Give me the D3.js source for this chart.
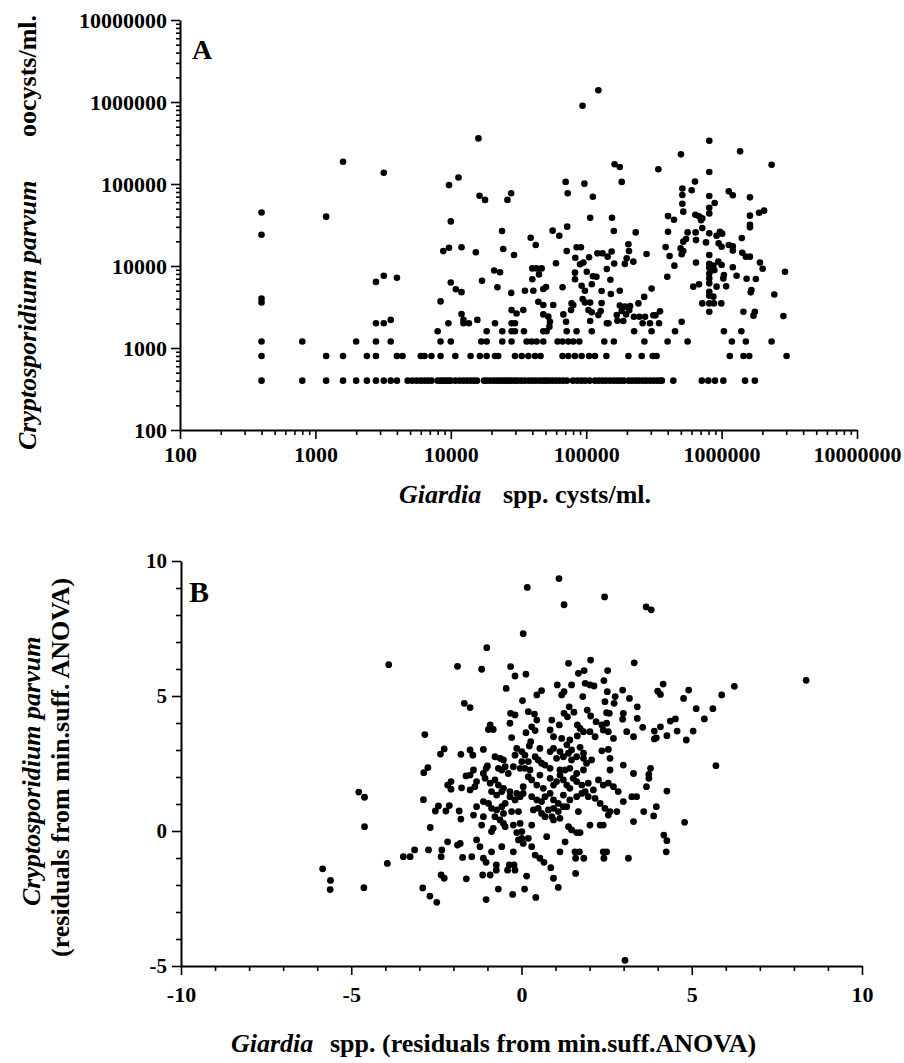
<!DOCTYPE html>
<html>
<head>
<meta charset="utf-8">
<script src="https://cdn.jsdelivr.net/npm/d3@7"></script>
<style>
  html, body { margin: 0; padding: 0; background: #fff; }
  svg { display: block; font-family: "Liberation Serif", "Times New Roman", serif; font-weight: bold; }
</style>
</head>
<body>
<svg id="chart" width="904" height="1063"></svg>
<script>
// ---------------- Panel A: raw counts (log–log) ----------------
// Giardia cysts/ml for samples whose Cryptosporidium count sits at the 400/ml floor
const floorRowA = [400, 800, 1200, 1600, 2000, 2400, 2800, 3200, 3600, 4000, 4800, 5200, 5600, 6000,
  6400, 6800, 7200, 8000, 8400, 8800, 9200, 9600, 10000, 10800, 11600, 12400, 13200, 14000, 14800,
  15600, 17600, 18400, 19600, 20800, 22000, 23200, 24400, 25600, 26800, 28000, 29600, 31200, 33200,
  35200, 37600, 40000, 42400, 45200, 48000, 50400, 53200, 56400, 60000, 63600, 67600, 72000, 80000,
  86000, 92000, 98000, 106000, 116000, 124000, 132000, 140000, 150000, 160000, 170000, 180000, 190000,
  206000, 218000, 232000, 246000, 262000, 278000, 296000, 314000, 334000, 352000, 362000, 440000,
  714000, 798000, 894000, 1030000, 1490000, 1760000];

// [Giardia, Cryptosporidium] on the 800 / 1200 / 1600 / 2000 count rows
const lowRowsA = [
  [400,800],[1200,800],[1600,800],[2400,800],[2800,800],[4000,800],[4400,800],[6000,800],[6400,800],
  [7200,800],[8400,800],[10800,800],[14000,800],[16400,800],[18400,800],[21200,800],[22400,800],
  [29800,800],[33400,800],[37400,800],[41900,800],[46000,800],[66900,800],[73800,800],[82600,800],
  [92500,800],[105000,800],[116000,800],[141000,800],[205000,800],[257000,800],[310000,800],[331000,800],
  [1150000,800],[1450000,800],[1600000,800],[3020000,800],
  [400,1200],[800,1200],[2000,1200],[2800,1200],[3600,1200],[8400,1200],[10000,1200],[16800,1200],
  [18400,1200],[24000,1200],[28100,1200],[36300,1200],[39500,1200],[43000,1200],[48200,1200],
  [61500,1200],[66900,1200],[73800,1200],[80300,1200],[89000,1200],[136000,1200],[160000,1200],
  [269000,1200],[399000,1200],[561000,1200],[1190000,1200],[1510000,1200],[2340000,1200],
  [8000,1600],[18400,1600],[24000,1600],[28100,1600],[29800,1600],[34700,1600],[48200,1600],
  [51000,1600],[71800,1600],[84900,1600],[110000,1600],[226000,1600],[304000,1600],[453000,1600],
  [1040000,1600],[1400000,1600],
  [2800,2000],[3200,2000],[9600,2000],[12400,2000],[13600,2000],[21200,2000],[28100,2000],[29800,2000],
  [142000,2000],[146000,2000],[261000,2000],[296000,2000],[345000,2000]
];

// [Giardia, Cryptosporidium] for the remaining samples
const scatterA = [
  [400,45000],[400,24000],[400,4000],[400,3600],[1200,40000],[1600,187000],[2800,6400],[3200,137000],
  [3200,7600],[3600,2200],[4000,7200],
  [16000,360000],[9700,97000],[11400,120000],[16300,72000],[17900,64000],[26200,64000],[27900,77000],
  [10000,35000],[23900,26700],[8800,15200],[9700,16700],[12000,16900],[15300,14700],[24400,16100],
  [29300,13600],[10000,6300],[10900,5200],[12000,4800],[17000,6600],[20900,8800],[23100,8400],
  [22100,5500],[27900,4700],[8400,3700],[12000,2600],[12400,2200],[15700,2200],
  [123000,1390000],[94000,900000],[811000,337000],[501000,230000],[1370000,250000],[2340000,172000],
  [162000,174000],[177000,161000],[341000,151000],[811000,140000],[70500,106000],[73000,77000],
  [97000,101000],[183000,106000],[112000,70000],
  [513000,88000],[513000,73500],[601000,84000],[636000,107000],[513000,57500],[521000,46000],
  [811000,71300],[811000,51400],[811000,43800],[889000,58600],[1130000,81300],[1210000,72800],
  [1620000,68700],[1620000,41100],[1890000,44600],[2060000,47300],[1620000,31700],[1620000,29600],
  [1410000,21900],[2940000,8500],
  [402000,40600],[445000,36700],[640000,42200],[681000,40300],[720000,38100],[705000,36100],
  [720000,29000],[561000,25700],[643000,25700],[402000,26200],[811000,25000],[918000,23400],
  [973000,26200],[1010000,24800],
  [546000,21300],[521000,19800],[498000,16400],[521000,15200],[507000,13900],[647000,20700],
  [767000,19400],[951000,18900],[1000000,17200],[1130000,18000],[1210000,17400],[1210000,15400],
  [1420000,14500],[1510000,13000],[1620000,13000],
  [386000,17000],[413000,13200],[448000,10100],[397000,7400],[811000,13600],[647000,11000],
  [811000,10600],[811000,9550],[869000,10100],[883000,8900],[811000,8100],[811000,7060],[811000,6140],
  [811000,4860],[811000,4350],[869000,4230],
  [946000,11300],[1000000,10300],[1040000,7760],[1030000,7060],[918000,5600],[1080000,5650],
  [1210000,9640],[1290000,7620],[1530000,7000],[1790000,6930],[1920000,11000],[2010000,9270],
  [1660000,5100],[1640000,4770],[618000,5600],[681000,5970],
  [720000,3500],[811000,3500],[879000,3500],[995000,3500],[811000,2770],[1450000,2770],[1760000,2770],
  [1720000,2480],[2860000,2450],[2450000,4500],
  [38900,22100],[42400,18000],[56500,27000],[63300,23400],[72400,30200],[107000,38800],[155000,38800],
  [160000,26700],[232000,25700],
  [205000,18400],[207000,15200],[199000,12400],[193000,10600],[223000,11300],[279000,14000],
  [304000,5300],[268000,4200],
  [243000,3500],[211000,3250],[193000,3200],[177000,3300],[351000,2800],[313000,2500],[325000,2500],
  [71800,15200],[84900,16900],[91400,16900],[83100,12600],[90000,10500],[95300,11000],[105000,12800],
  [121000,14300],[132000,14300],[144000,13000],[154000,15000],[161000,10700],[142000,9200],[151000,6800],
  [59800,10800],[82600,8300],[82600,6900],[101000,8500],[112000,7500],[119000,7400],[92500,5750],
  [97900,5000],[110000,6000],[130000,4950],[152000,4550],[177000,5000],[66900,5500],
  [40000,9350],[43000,9350],[46900,9350],[40000,6900],[44800,7900],[35300,5000],[40700,5000],
  [48200,5250],[50500,5540],
  [28100,2900],[30600,2640],[34300,2900],
  [44300,3670],[48200,3340],[48200,2570],[52500,2410],[54000,2090],[57100,3340],[53500,1820],
  [67800,2570],[71000,2090],[77300,2900],[80300,3340],[78000,3500],
  [94200,3950],[97900,3600],[107000,3580],[104000,2900],[110000,2720],[107000,2130],
  [123000,2520],[128000,2830],[130000,3530],
  [168000,2520],[183000,2830],[170000,2150],[188000,2130],[197000,2570],[208000,2900],
  [225000,2400],[247000,2400],[272000,2400],[507000,2090]
];

const aTickValues = [1e2, 1e3, 1e4, 1e5, 1e6, 1e7];
const aTickLabels = ["100", "1000", "10000", "100000", "1000000", "10000000"];

// ---------------- Panel B: residuals from min.suff. ANOVA ----------------
// [Giardia residual, Cryptosporidium residual] — outlying samples
const residualsBOuter = [
  [1.1,9.35],[0.17,9.02],[0.05,7.31],[-1.02,6.79],[-3.90,6.16],[-1.88,6.10],
  [-1.68,4.73],[-2.84,3.57],[-2.27,3.04],[-2.38,2.85],[-1.78,2.84],[-2.75,2.35],[-2.87,2.16],
  [-1.63,2.04],[-1.76,1.60],[-2.17,1.70],[-2.07,1.55],[-2.07,1.83],[-2.88,1.16],[-2.53,0.74],
  [-2.44,0.93],[-2.22,0.74],[-2.12,0.94],[-1.83,0.74],[-1.78,0.44],[-2.68,0.13],[-2.17,-0.40],
  [-1.88,-0.52],[-1.80,-0.46],[-1.73,-0.98],[-2.36,-0.95],[-2.34,-0.70],[-2.73,-0.70],[-3.14,-0.70],
  [-3.27,-0.95],[-3.47,-0.95],[-3.94,-1.20],[-4.61,0.16],[-4.61,1.25],[-4.78,1.44],[-5.84,-1.40],
  [-5.61,-1.83],[-5.62,-2.17],[-4.63,-2.10],[-2.90,-2.11],[-2.69,-2.41],[-2.49,-2.64],[-2.36,-1.63],
  [-2.27,-1.75],[-1.62,-1.77],
  [-1.04,-1.16],[-0.74,-1.26],[-0.74,-1.45],[-1.14,-1.63],[-0.92,-1.63],[-0.36,-1.26],[-0.22,-1.26],
  [-0.41,-1.45],[-0.19,-1.45],[-1.04,-2.54],[-0.68,-2.15],[-0.26,-2.35],[0.09,-2.15],[0.15,-1.67],
  [0.42,-2.46],[1.08,-2.09],[1.59,-1.57],[0.94,-1.75],[0.86,-1.36],[0.66,-1.16],[3.04,-4.79],
  [1.25,8.38],[2.44,8.67],[3.66,8.30],[3.81,8.19],
  [4.00,5.18],[4.08,5.06],[4.16,5.44],[4.76,4.91],[4.91,5.22],[5.88,5.04],[6.25,5.36],[8.36,5.58],
  [5.13,4.53],[5.62,4.53],[5.37,4.15],[4.37,4.07],[4.52,4.15],[4.08,3.86],[4.57,3.70],[4.27,3.53],
  [5.04,3.70],[4.84,3.37],[3.90,3.70],[3.90,3.41],[3.96,3.45],[3.56,3.84],[3.79,2.32],[3.74,2.10],
  [3.74,1.95],[3.67,1.64],[4.27,1.48],[5.71,2.42],[3.59,0.72],[3.88,0.56],[3.96,0.90],
  [4.18,-0.15],[4.27,-0.36],[4.25,-0.77],[4.79,0.32]
];

// [Giardia residual, Cryptosporidium residual] — dense core of the cloud
const residualsBCore = [
  [-1.17,5.99],[-0.32,6.09],[-0.19,5.74],[0.13,5.81],[1.38,6.21],[2.03,6.33],[3.31,6.23],[1.67,5.84],
  [1.84,5.94],[2.53,5.94],[-0.45,5.28],
  [1.05,5.41],[1.47,5.41],[1.87,5.47],[2.01,5.41],[2.13,5.37],[2.42,5.57],[0.59,5.20],[0.45,5.04],
  [1.25,5.16],[1.18,5.04],[1.80,4.98],[2.52,5.16],[2.75,4.98],[2.97,5.22],[3.17,4.91],[0.03,4.83],
  [2.45,4.79],[2.72,4.73],
  [-1.51,4.57],[-0.32,4.36],[-0.19,4.30],[0.20,4.42],[0.38,4.33],[0.45,4.11],[1.25,4.36],[1.35,4.23],
  [1.54,4.40],[1.93,4.48],[2.03,4.26],[1.40,4.60],[2.50,4.38],[2.58,4.36],[2.99,4.36],[3.40,4.60],
  [2.97,4.14],[3.40,4.17],[0.89,4.11],[1.11,3.93],[-0.34,3.99],[0.84,3.74],[1.64,3.93],[1.72,3.80],
  [2.19,4.05],[2.36,3.93],[2.40,3.74],[2.50,3.99],
  [-0.92,3.93],[-0.83,3.76],[-0.97,3.76],[0.13,3.64],[0.30,3.86],[0.40,3.72],[-0.29,3.46],[0.27,3.31],
  [0.23,3.15],[0.94,3.49],[1.18,3.43],[1.33,3.19],[1.42,3.37],[1.64,3.52],[1.82,3.68],[2.01,3.68],
  [2.16,3.49],[2.55,3.68],[2.70,3.43],[3.09,3.68],[3.29,3.49],[-1.12,3.02],[-1.51,3.00],[-1.43,2.81],
  [1.47,3.00],[0.94,3.06],[0.84,2.94],[0.54,3.06],[1.13,2.94],[-0.14,3.06],[0.01,2.94],[0.10,2.81],
  [2.55,3.02],[2.36,2.97],[1.82,2.88],[1.72,3.10],
  [-0.78,2.75],[-0.63,2.69],[-0.53,2.63],[-0.19,2.81],[-0.24,2.38],[0.01,2.57],[0.20,2.57],[0.40,2.75],
  [0.49,2.63],[0.59,2.51],[0.69,2.44],[0.84,2.32],[1.03,2.69],[1.23,2.75],[1.38,2.88],[1.47,2.63],
  [1.62,2.75],[1.82,2.69],[1.91,2.51],[2.06,2.63],[2.60,2.69],[2.60,2.26],[2.99,2.44],[3.29,2.13],
  [-1.00,2.41],[-1.12,2.13],[-1.04,2.32],[-1.41,2.26],[-1.51,2.07],[-0.68,2.32],[-0.58,2.26],
  [-0.48,2.38],[-0.39,2.13],[-0.04,2.32],[0.10,2.32],[0.25,2.26],[1.13,2.26],[1.28,2.26],[1.42,2.32],
  [1.62,2.13],[1.82,2.26],
  [-1.32,1.83],[-1.37,1.64],[-1.07,1.95],[-0.92,1.77],[-0.78,1.89],[-0.68,1.70],[-0.53,1.58],
  [-0.34,1.46],[-0.14,1.39],[0.05,1.64],[0.20,2.01],[0.30,1.89],[0.45,1.70],[0.54,2.07],[0.64,1.58],
  [0.84,1.95],[0.94,1.70],[1.03,1.83],[1.13,2.07],[1.23,1.89],[1.33,1.70],[1.42,1.58],[1.52,1.95],
  [1.62,1.83],[1.77,1.70],[1.87,1.46],[1.96,1.77],[2.11,1.52],[2.26,1.89],[2.40,1.70],[2.55,1.77],
  [2.70,1.64],[2.84,1.46],[-0.88,1.46],[-0.73,1.33],[-0.58,1.46],[-1.51,1.52],
  [-1.32,0.90],[-1.41,0.59],[-1.12,1.09],[-0.97,1.02],[-0.88,0.84],[-0.73,0.78],[-0.58,0.90],
  [-0.48,1.02],[-0.34,1.27],[-0.19,1.15],[-0.04,1.27],[0.05,1.39],[0.30,1.27],[0.45,1.15],[0.59,1.09],
  [0.69,1.27],[0.84,1.39],[0.94,1.15],[1.08,1.02],[1.23,1.33],[1.33,0.90],[1.42,1.15],[1.62,1.27],
  [1.77,1.39],[1.96,1.27],[2.16,1.21],[2.31,1.02],[2.45,0.84],[2.60,0.72],[2.80,0.72],[2.99,1.09],
  [3.24,1.27],[3.38,1.27],[-0.78,0.53],[-0.63,0.41],[-0.53,0.65],[-0.29,0.72],[-0.09,0.72],[0.35,0.78],
  [0.49,0.84],[0.59,0.65],[0.79,0.78],[0.94,0.84],[1.08,0.72],[1.23,0.90],[1.67,0.72],
  [-1.17,0.22],[-1.12,0.53],[-0.83,0.10],[-0.53,0.28],[-0.48,0.16],[-0.24,0.22],[-0.04,0.28],
  [0.30,0.22],[0.69,0.53],[0.89,0.53],[0.94,0.41],[1.13,0.47],[1.38,0.16],[1.47,0.04],[1.62,-0.06],
  [1.72,-0.06],[2.01,0.22],[2.31,0.22],[2.40,0.22],[2.55,0.59],[3.29,0.35],[-0.88,-0.02],
  [-0.14,-0.06],[0.01,-0.02],
  [-1.32,-0.33],[-1.22,-0.58],[-0.88,-0.77],[-0.58,-0.58],[-0.24,-0.77],[-0.09,-0.33],[0.01,-0.27],
  [0.05,-0.46],[0.20,-0.27],[0.30,-0.58],[0.40,-0.89],[0.74,-0.21],[1.28,-0.40],[1.57,-0.77],
  [1.70,-0.77],[2.40,-0.77],[2.50,-0.77],[3.14,-1.01],[1.13,-0.77],[-1.12,-1.01],[0.54,-1.01],
  [1.59,-1.01],[1.83,-1.01],[2.42,-1.01],[-1.46,-0.95]
];

const bXTicks = [-10, -5, 0, 5, 10];
const bXTickLabels = ["-10", "-5", "0", "5", "10"];
const bYTicks = [-5, 0, 5, 10];
const bYTickLabels = ["-5", "0", "5", "10"];

// ---------------- drawing ----------------
const svg = d3.select("#chart");
const FONT = '"Liberation Serif", "Times New Roman", serif';

function styleAxis(g, fontSize) {
  g.attr("font-family", FONT).attr("font-size", fontSize).attr("font-weight", "bold");
  g.selectAll("text").attr("fill", "#000");
  g.selectAll(".domain").attr("stroke", "#000").attr("stroke-width", 2);
  g.selectAll(".tick line").attr("stroke", "#000").attr("stroke-width", 1.6);
}

// Panel A scales
const xA = d3.scaleLog().domain([1e2, 1e7]).range([180, 857]);
const yA = d3.scaleLog().domain([1e2, 1e7]).range([430, 20]);
const minorA = xA.ticks().filter(v => !aTickValues.includes(v));

// minor ticks
svg.append("g").attr("transform", "translate(0,430)")
  .call(d3.axisBottom(xA).tickValues(minorA).tickSize(5).tickFormat(""))
  .call(g => { g.select(".domain").remove(); styleAxis(g, 22); });
svg.append("g").attr("transform", "translate(180,0)")
  .call(d3.axisLeft(yA).tickValues(minorA).tickSize(4).tickFormat(""))
  .call(g => { g.select(".domain").remove(); styleAxis(g, 22); });

// major ticks + labels
svg.append("g").attr("transform", "translate(0,430)")
  .call(d3.axisBottom(xA).tickValues(aTickValues).tickSize(9).tickSizeOuter(0)
    .tickFormat((d, i) => aTickLabels[i]))
  .call(g => { styleAxis(g, 22); g.selectAll("text").attr("y", 32).attr("dy", 0); });
svg.append("g").attr("transform", "translate(180,0)")
  .call(d3.axisLeft(yA).tickValues(aTickValues).tickSize(9).tickSizeOuter(0).tickPadding(4)
    .tickFormat((d, i) => aTickLabels[i]))
  .call(g => styleAxis(g, 22));

const pointsA = floorRowA.map(g => [g, 400]).concat(lowRowsA, scatterA);
svg.append("g").selectAll("circle").data(pointsA).join("circle")
  .attr("cx", d => xA(d[0])).attr("cy", d => yA(d[1])).attr("r", 3.3).attr("fill", "#000");

svg.append("text").attr("x", 192).attr("y", 59).attr("font-size", 28).text("A");

svg.append("text").attr("transform", "translate(36,450) rotate(-90)")
  .attr("font-size", 26).attr("font-style", "italic").text("Cryptosporidium parvum");
svg.append("text").attr("transform", "translate(36,137) rotate(-90)")
  .attr("font-size", 26).text("oocysts/ml.");
svg.append("text").attr("x", 399).attr("y", 503).attr("font-size", 26)
  .attr("font-style", "italic").text("Giardia");
svg.append("text").attr("x", 503).attr("y", 503).attr("font-size", 26).text("spp. cysts/ml.");

// Panel B scales
const xB = d3.scaleLinear().domain([-10, 10]).range([181, 862]);
const yB = d3.scaleLinear().domain([-5, 10]).range([966, 561]);
const minorBX = d3.range(-10, 11).filter(v => v % 5 !== 0);
const minorBY = d3.range(-5, 11).filter(v => v % 5 !== 0);

svg.append("g").attr("transform", "translate(0,966)")
  .call(d3.axisBottom(xB).tickValues(minorBX).tickSize(5).tickFormat(""))
  .call(g => { g.select(".domain").remove(); styleAxis(g, 22); });
svg.append("g").attr("transform", "translate(181,0)")
  .call(d3.axisLeft(yB).tickValues(minorBY).tickSize(5).tickFormat(""))
  .call(g => { g.select(".domain").remove(); styleAxis(g, 22); });

svg.append("g").attr("transform", "translate(0,966)")
  .call(d3.axisBottom(xB).tickValues(bXTicks).tickSize(9).tickSizeOuter(0)
    .tickFormat((d, i) => bXTickLabels[i]))
  .call(g => { styleAxis(g, 22); g.selectAll("text").attr("y", 36).attr("dy", 0); });
svg.append("g").attr("transform", "translate(181,0)")
  .call(d3.axisLeft(yB).tickValues(bYTicks).tickSize(9).tickSizeOuter(0).tickPadding(5)
    .tickFormat((d, i) => bYTickLabels[i]))
  .call(g => styleAxis(g, 21));

const pointsB = residualsBOuter.concat(residualsBCore);
svg.append("g").selectAll("circle").data(pointsB).join("circle")
  .attr("cx", d => xB(d[0])).attr("cy", d => yB(d[1])).attr("r", 3.4).attr("fill", "#000");

svg.append("text").attr("x", 189).attr("y", 602).attr("font-size", 30).text("B");

svg.append("text").attr("transform", "translate(40,906) rotate(-90)")
  .attr("font-size", 26).attr("font-style", "italic").text("Cryptosporidium parvum");
svg.append("text").attr("transform", "translate(69,957) rotate(-90)")
  .attr("font-size", 26).text("(residuals from min.suff. ANOVA)");
svg.append("text").attr("x", 231).attr("y", 1052).attr("font-size", 26)
  .attr("font-style", "italic").text("Giardia");
svg.append("text").attr("x", 330).attr("y", 1052).attr("font-size", 26)
  .text("spp. (residuals from min.suff.ANOVA)");
</script>
</body>
</html>
